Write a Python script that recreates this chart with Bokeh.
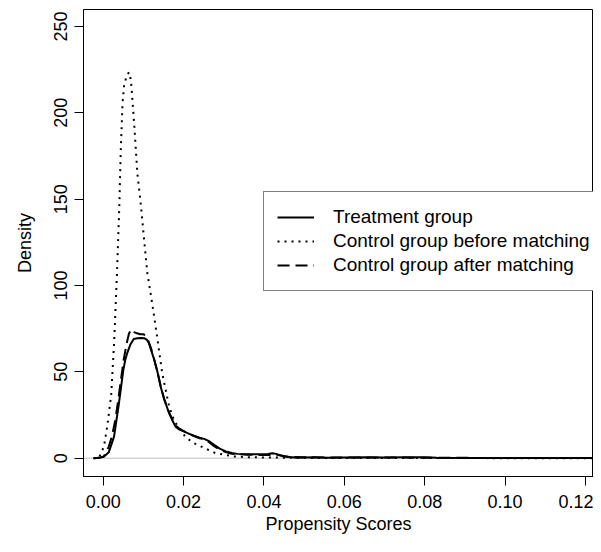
from bokeh.plotting import figure
from bokeh.models import Span, Legend, LegendItem, FixedTicker, Range1d
from bokeh.embed import file_html
from bokeh.resources import INLINE

# ---- data ----
treat_x = [-0.0023, -0.001, 0.0002, 0.0014, 0.0027, 0.0039, 0.0045, 0.005, 0.0055,
           0.006, 0.0068, 0.0076, 0.0085, 0.0095, 0.0102, 0.0109, 0.0114, 0.012,
           0.0127, 0.0135, 0.0143, 0.0152, 0.0164, 0.0172, 0.018, 0.019, 0.021,
           0.0225, 0.024, 0.0251, 0.0262, 0.0276, 0.029, 0.0305, 0.032, 0.0334,
           0.036, 0.0392, 0.041, 0.0421, 0.043, 0.045, 0.0483, 0.052, 0.056, 0.06,
           0.065, 0.07, 0.075, 0.08, 0.083, 0.09, 0.1, 0.11, 0.12, 0.13]
treat_y = [0, 0.2, 0.9, 3.5, 12.5, 31.5, 42, 51, 57, 61, 66, 69, 69.5, 69.6,
           69.5, 68.5, 66.5, 62, 57, 50, 41.4, 34, 26, 22, 18.3, 16.5, 14.5,
           13, 11.8, 11.2, 10, 7.7, 5.5, 3.9, 3, 2.5, 2.3, 2.3, 2.5, 2.9, 2.5,
           1, 0.3, 0.5, 0.3, 0.4, 0.5, 0.4, 0.5, 0.5, 0.2, 0.1, 0.1, 0.1, 0.05, 0.05]

before_x = [-0.0025, -0.001, 0.0002, 0.0011, 0.002, 0.0027, 0.0034, 0.004, 0.0044,
            0.0048, 0.0052, 0.0058, 0.0064, 0.0069, 0.0077, 0.0085, 0.0094,
            0.0102, 0.011, 0.0123, 0.0135, 0.0147, 0.0164, 0.0178, 0.0193,
            0.0205, 0.0226, 0.0243, 0.028, 0.0326, 0.036, 0.04, 0.045, 0.05,
            0.06, 0.07, 0.08, 0.09, 0.1, 0.11, 0.12, 0.13]
before_y = [0, 0.5, 6.8, 20, 37, 66, 105, 145, 180, 205, 216, 221, 223.5, 219,
            194, 165, 146, 126, 107, 88, 69, 49, 30, 21, 16.4, 12.1, 8.7, 6.8,
            2.9, 1, 0.6, 0.4, 0.3, 0.2, 0.1, 0.1, 0.05, 0.05, 0.03, 0.03, 0.02, 0.02]

after_x = [-0.0022, -0.001, 0.00015, 0.0014, 0.0022, 0.003, 0.0037, 0.0043, 0.0051,
           0.0058, 0.0064, 0.007, 0.0077, 0.0084, 0.0092, 0.0101, 0.0108, 0.0113,
           0.012, 0.0127, 0.0135, 0.0143, 0.0152, 0.0164, 0.0172, 0.018, 0.019,
           0.021, 0.0225, 0.024, 0.0251, 0.0262, 0.0276, 0.029, 0.0305, 0.032,
           0.036, 0.04, 0.043, 0.046, 0.05, 0.06, 0.07, 0.08, 0.09, 0.1, 0.11,
           0.12, 0.13]
after_y = [0, 0.2, 1, 6.7, 13, 22, 33, 43.4, 57, 66, 72, 74.6, 73, 72.3, 71.8,
           71.7, 70, 67.5, 63, 57, 50, 42, 34, 26.5, 22.5, 19, 17, 14.5, 13,
           11.5, 11, 9.5, 7, 5, 3.5, 2.5, 2, 1.8, 2, 0.8, 0.5, 0.4, 0.4, 0.3,
           0.2, 0.1, 0.1, 0.05, 0.05]

series_names = ["Treatment group", "Control group before matching",
                "Control group after matching"]

x_ticks = [0.0, 0.02, 0.04, 0.06, 0.08, 0.10, 0.12]
x_tick_labels = ["0.00", "0.02", "0.04", "0.06", "0.08", "0.10", "0.12"]
y_ticks = [0, 50, 100, 150, 200, 250]
y_tick_labels = ["0", "50", "100", "150", "200", "250"]

FONT = "Liberation Sans"

p = figure(width=593, height=536, output_backend="svg", toolbar_location=None,
           x_range=Range1d(-0.0049, 0.1220), y_range=Range1d(-10.6, 259.8),
           min_border_left=83, min_border_right=0, min_border_top=9,
           min_border_bottom=59)

p.background_fill_color = "white"
p.border_fill_color = "white"
p.outline_line_color = "black"
p.outline_line_width = 1
p.xgrid.visible = False
p.ygrid.visible = False

zero = Span(location=0, dimension="width", line_color="#bebebe", line_width=1,
            level="underlay")
p.add_layout(zero)

r1 = p.line(treat_x, treat_y, line_color="black", line_width=2)
r2 = p.line(before_x, before_y, line_color="black", line_width=2, line_dash="2 5")
r3 = p.line(after_x, after_y, line_color="black", line_width=2, line_dash="12 6")

for ax, ticks, labels in ((p.xaxis[0], x_ticks, x_tick_labels),
                          (p.yaxis[0], y_ticks, y_tick_labels)):
    ax.ticker = FixedTicker(ticks=ticks)
    ax.major_label_overrides = {t: l for t, l in zip(ticks, labels)}
    ax.minor_tick_line_color = None
    ax.major_tick_in = 0
    ax.major_tick_out = 9
    ax.major_tick_line_color = "black"
    ax.axis_line_color = "black"
    ax.major_label_text_font = FONT
    ax.major_label_text_font_size = "18px"
    ax.major_label_text_color = "black"
    ax.axis_label_text_font = FONT
    ax.axis_label_text_font_size = "18px"
    ax.axis_label_text_font_style = "normal"
    ax.axis_label_text_color = "black"

p.xaxis[0].axis_label = "Propensity Scores"
p.xaxis[0].major_label_standoff = 9
p.xaxis[0].axis_label_standoff = 3
p.yaxis[0].axis_label = "Density"
p.yaxis[0].major_label_orientation = "vertical"
p.yaxis[0].major_label_standoff = 7
p.yaxis[0].axis_label_standoff = 17

legend = Legend(items=[LegendItem(label=series_names[0], renderers=[r1]),
                       LegendItem(label=series_names[1], renderers=[r2]),
                       LegendItem(label=series_names[2], renderers=[r3])],
                location=(180, 185), orientation="vertical",
                border_line_color="black", border_line_width=1,
                background_fill_color="white", background_fill_alpha=1,
                padding=13, spacing=0, margin=0,
                glyph_width=37, glyph_height=24, label_height=24,
                label_standoff=19,
                label_text_font=FONT, label_text_font_size="19px",
                label_text_color="black", label_text_baseline="middle")
p.add_layout(legend, "center")

open("out.html", "w").write(file_html(p, INLINE))
